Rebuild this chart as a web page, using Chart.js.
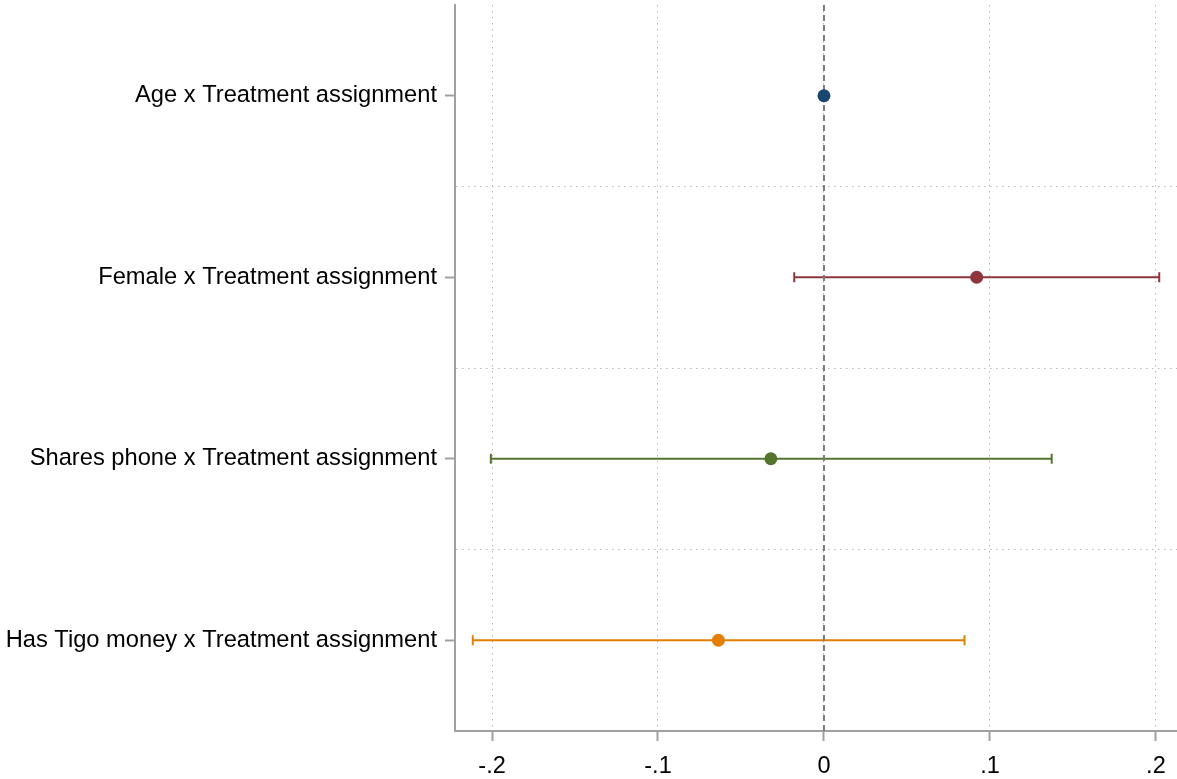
<!DOCTYPE html>
<html>
<head>
<meta charset="utf-8">
<script src="https://cdn.jsdelivr.net/npm/chart.js@4/dist/chart.umd.min.js"></script>
<style>
  html, body { margin: 0; padding: 0; background: #fff; overflow: hidden; }
  #wrap { width: 1177px; height: 779px; position: relative; }
</style>
</head>
<body>
<div id="wrap"><canvas id="coefChart"></canvas></div>
<script>
// coefficient plot data
const labels = [
  "Age x Treatment assignment",
  "Female x Treatment assignment",
  "Shares phone x Treatment assignment",
  "Has Tigo money x Treatment assignment"
];
const estimates = [0.0, 0.092, -0.032, -0.0636];
const ciLow = [-0.0015, -0.0179, -0.2007, -0.2116];
const ciHigh = [0.0015, 0.202, 0.1372, 0.0847];
const colors = ["#1a476f", "#90353b", "#55752f", "#e37e00"];

const xTicks = [-0.2, -0.1, 0, 0.1, 0.2];
const xTickLabels = ["-.2", "-.1", "0", ".1", ".2"];

const axisGray = "#a0a0a0";
const gridGray = "#b8b8b8";
const fontFam = "'Liberation Sans', Arial, sans-serif";

// point estimates go first so they sit on top
const datasets = [{
  type: "scatter",
  data: estimates.map((v, i) => ({ x: v, y: i + 1 })),
  backgroundColor: colors,
  borderColor: colors,
  pointRadius: 6.5,
  borderWidth: 0
}, {
  // zero reference line
  type: "line",
  data: [{ x: 0, y: 0.5 }, { x: 0, y: 4.5 }],
  borderColor: "#7a7a7a",
  borderWidth: 2,
  borderDash: [6, 4],
  pointRadius: 0
}];

labels.forEach((lab, i) => {
  datasets.push({
    type: "line",
    data: [{ x: ciLow[i], y: i + 1 }, { x: ciHigh[i], y: i + 1 }],
    borderColor: colors[i],
    backgroundColor: colors[i],
    borderWidth: 2,
    pointStyle: "line",
    pointRotation: 90,
    pointRadius: 5,
    pointBorderWidth: 2,
    pointBorderColor: colors[i]
  });
});

new Chart(document.getElementById("coefChart"), {
  type: "scatter",
  data: { datasets: datasets },
  options: {
    responsive: true,
    maintainAspectRatio: false,
    animation: false,
    layout: { autoPadding: false, padding: { top: 5, left: 5, right: 0, bottom: 0 } },
    plugins: { legend: { display: false }, tooltip: { enabled: false } },
    scales: {
      x: {
        type: "linear",
        min: -0.2223,
        max: 0.2127,
        afterBuildTicks: (s) => { s.ticks = xTicks.map(v => ({ value: v })); },
        afterFit: (s) => { s.height = 48; s.paddingLeft = 0; s.paddingRight = 0; },
        ticks: {
          callback: (v) => xTickLabels[xTicks.indexOf(v)],
          color: "#000",
          font: { family: fontFam, size: 23.5 },
          padding: 11,
          maxRotation: 0,
          autoSkip: false
        },
        grid: {
          color: gridGray,
          lineWidth: 1,
          drawTicks: true,
          tickLength: 10,
          tickColor: axisGray,
          tickWidth: 2,
          tickBorderDash: []
        },
        border: { display: true, color: axisGray, width: 2, dash: [1.5, 4.5] }
      },
      y: {
        type: "linear",
        reverse: true,
        min: 0.5,
        max: 4.5,
        afterBuildTicks: (s) => {
          s.ticks = [1, 1.5, 2, 2.5, 3, 3.5, 4].map(v => ({ value: v }));
        },
        afterFit: (s) => { s.width = 450; s.paddingTop = 0; s.paddingBottom = 0; },
        ticks: {
          callback: (v) => Number.isInteger(v) ? labels[v - 1] : "",
          color: "#000",
          font: { family: fontFam, size: 23.7 },
          padding: 8,
          autoSkip: false
        },
        grid: {
          color: (c) => Number.isInteger(c.tick.value) ? "rgba(0,0,0,0)" : gridGray,
          lineWidth: 1,
          drawTicks: true,
          tickLength: 10,
          tickColor: (c) => Number.isInteger(c.tick.value) ? axisGray : "rgba(0,0,0,0)",
          tickWidth: 2,
          tickBorderDash: []
        },
        border: { display: true, color: axisGray, width: 2, dash: [1.5, 4.5] }
      }
    }
  }
});
</script>
</body>
</html>
